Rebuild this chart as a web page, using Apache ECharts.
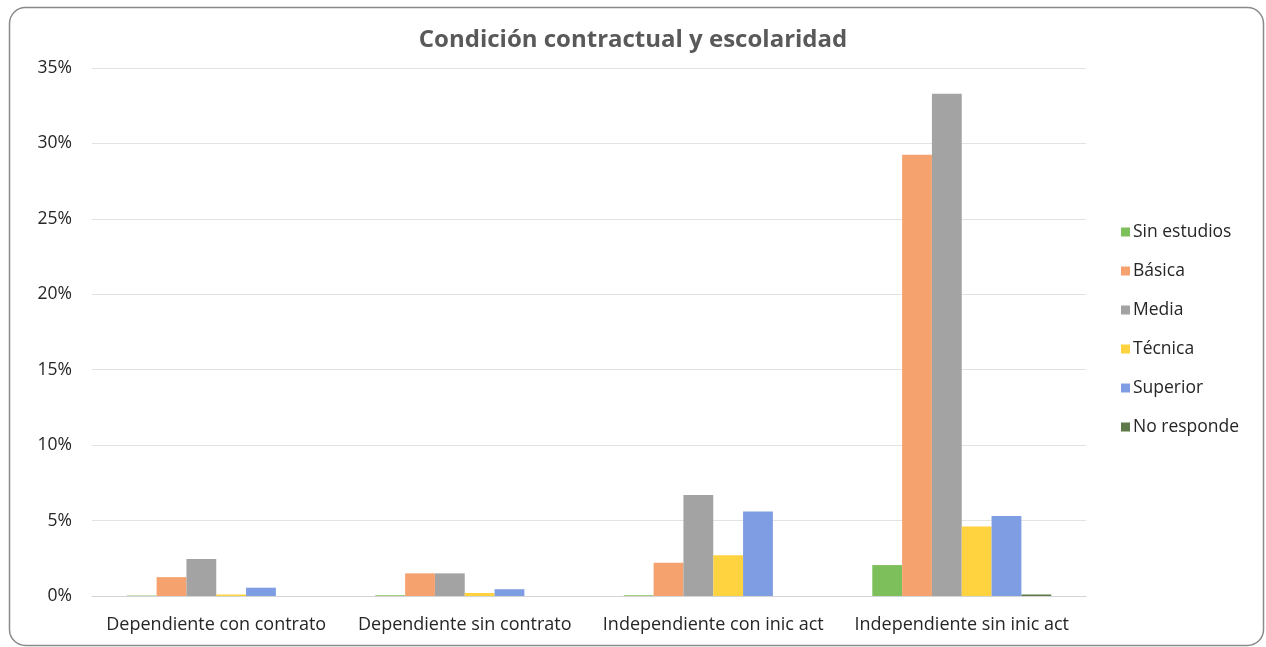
<!DOCTYPE html>
<html>
<head>
<meta charset="utf-8">
<script src="https://cdn.jsdelivr.net/npm/echarts@6/dist/echarts.min.js"></script>
<style>
html,body{margin:0;padding:0;background:#fff;}
#c{width:1266px;height:647px;}
</style>
</head>
<body>
<div id="c"></div>
<script>
const categories = ['Dependiente con contrato', 'Dependiente sin contrato', 'Independiente con inic act', 'Independiente sin inic act'];
const seriesNames = ['Sin estudios', 'Básica', 'Media', 'Técnica', 'Superior', 'No responde'];
const sinEstudios = [0.03, 0.05, 0.05, 2.05];
const basica = [1.25, 1.5, 2.2, 29.25];
const media = [2.45, 1.5, 6.7, 33.3];
const tecnica = [0.1, 0.2, 2.7, 4.6];
const superior = [0.55, 0.45, 5.6, 5.3];
const noResponde = [0, 0, 0, 0.1];
const yTicks = [0, 5, 10, 15, 20, 25, 30, 35];
const colors = ['#7DBF5A', '#F5A26E', '#A3A3A3', '#FFD23F', '#7E9DE3', '#5E7A4A'];

const values = [sinEstudios, basica, media, tecnica, superior, noResponde];
const chart = echarts.init(document.getElementById('c'));
chart.setOption({
  animation: false,
  backgroundColor: '#fff',
  graphic: [{
    type: 'rect', left: 7, top: 5,
    shape: {width: 1254, height: 638, r: 16},
    style: {fill: 'none', stroke: '#8a8a8a', lineWidth: 1.5},
    silent: true, z: -1
  }],
  title: {
    text: 'Condición contractual y escolaridad',
    left: 'center', top: 23,
    textStyle: {fontFamily: 'Open Sans', fontWeight: 'bold', fontSize: 24, color: '#595959'}
  },
  legend: {
    orient: 'vertical', left: 1116, top: 218, itemGap: 21,
    itemWidth: 9, itemHeight: 9, icon: 'rect',
    data: seriesNames,
    textStyle: {fontFamily: 'Open Sans', fontSize: 17.5, color: '#262626', padding: [0,0,0,-2]}
  },
  grid: {left: 92, right: 180, top: 68, bottom: 51, containLabel: false},
  xAxis: {
    type: 'category', data: categories,
    axisLine: {lineStyle: {color: '#d4d4d4'}},
    axisTick: {show: false},
    axisLabel: {interval: 0, fontFamily: 'Open Sans', fontSize: 18, color: '#262626', margin: 20}
  },
  yAxis: {
    type: 'value', min: yTicks[0], max: yTicks[yTicks.length-1], interval: 5,
    axisLabel: {formatter: '{value}%', fontFamily: 'Open Sans', fontSize: 17.5, color: '#262626', margin: 20},
    axisLine: {show: false}, axisTick: {show: false},
    splitLine: {lineStyle: {color: '#e3e3e3'}}
  },
  series: seriesNames.map((n, i) => ({
    name: n, type: 'bar', data: values[i],
    barGap: '0%', barCategoryGap: '28%',
    itemStyle: {color: colors[i]}
  }))
});
</script>
</body>
</html>
